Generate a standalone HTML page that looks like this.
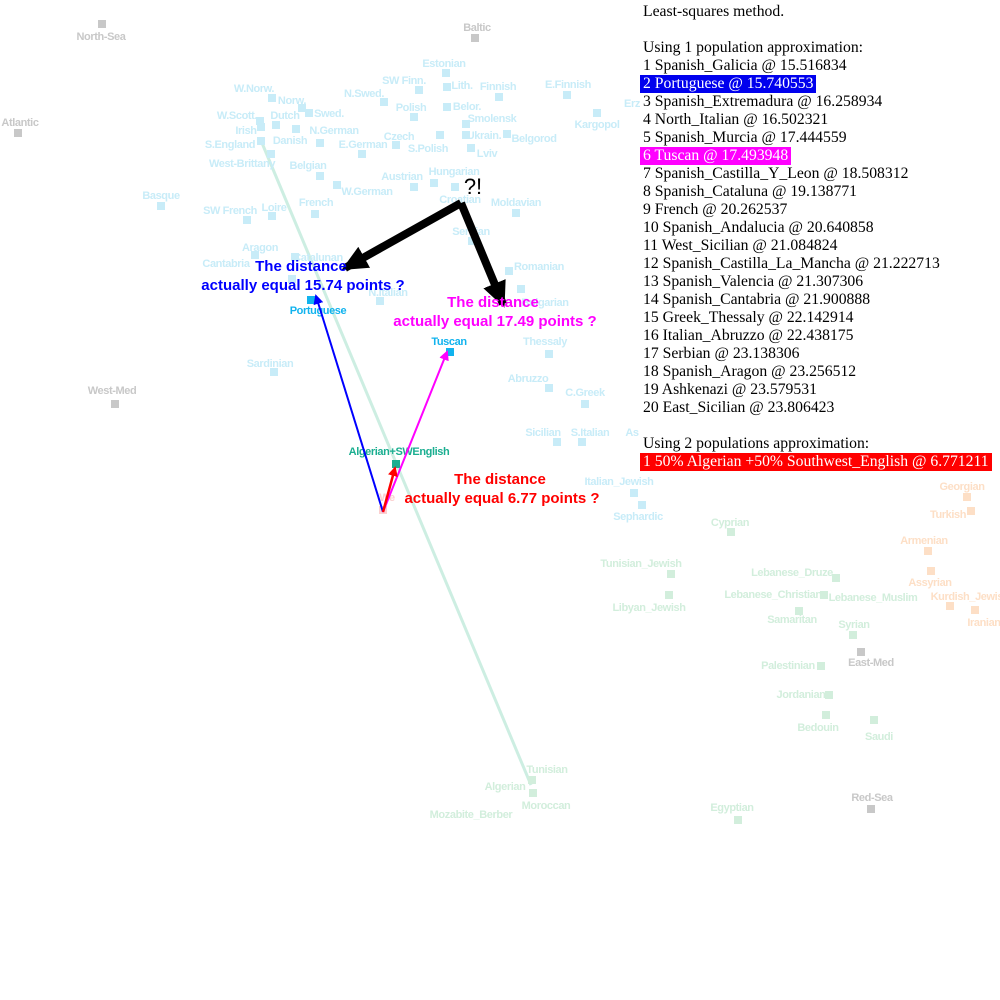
<!DOCTYPE html>
<html><head><meta charset="utf-8"><style>
body{margin:0;width:1000px;height:1000px;background:#fff;overflow:hidden;position:relative}
svg{position:absolute;left:0;top:0}
.t{font-family:"Liberation Sans Narrow","Liberation Sans",sans-serif;font-weight:bold;font-size:11px;letter-spacing:-0.4px;text-anchor:middle}
.b{fill:#c8ecf8}.g{fill:#d2eedc}.o{fill:#fddfc6}.k{fill:#c8c8c8}
#txt{position:absolute;left:643px;top:3px;font-family:"Liberation Serif",serif;font-size:15.7px;line-height:18px;color:#000;white-space:pre}
#txt span{display:inline-block;padding:0 3px;margin-left:-3px}
.big{font-family:"Liberation Sans",sans-serif;font-weight:bold;font-size:15px;text-anchor:middle}
</style></head><body>
<svg width="1000" height="1000" viewBox="0 0 1000 1000">
<defs>
<marker id="ab" markerWidth="10" markerHeight="10" refX="8" refY="5" orient="auto" markerUnits="userSpaceOnUse"><path d="M0,0 L10,5 L0,10 Z" fill="#0000ff"/></marker>
<marker id="am" markerWidth="10" markerHeight="10" refX="8" refY="5" orient="auto" markerUnits="userSpaceOnUse"><path d="M0,0 L10,5 L0,10 Z" fill="#ff00ff"/></marker>
<marker id="ar" markerWidth="10" markerHeight="10" refX="8" refY="5" orient="auto" markerUnits="userSpaceOnUse"><path d="M0,0 L10,5 L0,10 Z" fill="#ff0000"/></marker>
<marker id="ak" markerWidth="26" markerHeight="24" refX="22" refY="12" orient="auto" markerUnits="userSpaceOnUse"><path d="M0,0 L26,12 L0,24 Z" fill="#000"/></marker>
</defs>
<line x1="262" y1="143" x2="531" y2="785" stroke="#cdeee2" stroke-width="3"/>
<g>
<g class="b">
<rect x="268" y="94" width="8" height="8"/><rect x="298" y="104" width="8" height="8"/><rect x="305" y="109" width="8" height="8"/>
<rect x="256" y="117" width="8" height="8"/><rect x="272" y="121" width="8" height="8"/><rect x="257" y="123" width="8" height="8"/>
<rect x="292" y="125" width="8" height="8"/><rect x="316" y="139" width="8" height="8"/><rect x="257" y="137" width="8" height="8"/>
<rect x="358" y="150" width="8" height="8"/><rect x="267" y="150" width="8" height="8"/><rect x="392" y="141" width="8" height="8"/>
<rect x="436" y="131" width="8" height="8"/><rect x="410" y="113" width="8" height="8"/><rect x="380" y="98" width="8" height="8"/>
<rect x="415" y="86" width="8" height="8"/><rect x="442" y="69" width="8" height="8"/><rect x="443" y="83" width="8" height="8"/>
<rect x="443" y="103" width="8" height="8"/><rect x="462" y="120" width="8" height="8"/><rect x="462" y="131" width="8" height="8"/>
<rect x="503" y="130" width="8" height="8"/><rect x="467" y="144" width="8" height="8"/><rect x="495" y="93" width="8" height="8"/>
<rect x="563" y="91" width="8" height="8"/><rect x="593" y="109" width="8" height="8"/>
<rect x="316" y="172" width="8" height="8"/><rect x="333" y="181" width="8" height="8"/><rect x="410" y="183" width="8" height="8"/>
<rect x="430" y="179" width="8" height="8"/><rect x="451" y="183" width="8" height="8"/><rect x="512" y="209" width="8" height="8"/>
<rect x="157" y="202" width="8" height="8"/><rect x="243" y="216" width="8" height="8"/><rect x="268" y="212" width="8" height="8"/>
<rect x="311" y="210" width="8" height="8"/><rect x="468" y="237" width="8" height="8"/>
<rect x="251" y="251" width="8" height="8"/><rect x="291" y="253" width="8" height="8"/><rect x="288" y="275" width="8" height="8"/>
<rect x="376" y="297" width="8" height="8"/><rect x="505" y="267" width="8" height="8"/><rect x="517" y="285" width="8" height="8"/>
<rect x="545" y="350" width="8" height="8"/><rect x="270" y="368" width="8" height="8"/><rect x="545" y="384" width="8" height="8"/>
<rect x="581" y="400" width="8" height="8"/><rect x="553" y="438" width="8" height="8"/><rect x="578" y="438" width="8" height="8"/>
<rect x="630" y="489" width="8" height="8"/><rect x="638" y="501" width="8" height="8"/>
</g>
<rect x="307" y="296" width="8" height="8" fill="#11b3ee"/>
<rect x="446" y="348" width="8" height="8" fill="#11b3ee"/>
<rect x="392" y="460" width="8" height="8" fill="#1aae90"/>
<rect x="379" y="506" width="8" height="8" fill="#fbd0d0"/>
<g class="t" fill="#c8ecf8">
<text x="254" y="92">W.Norw.</text><text x="292" y="104">Norw.</text><text x="329" y="117">Swed.</text>
<text x="237" y="119">W.Scott.</text><text x="285" y="119">Dutch</text><text x="246" y="134">Irish</text>
<text x="334" y="134">N.German</text><text x="290" y="144">Danish</text><text x="230" y="148">S.England</text>
<text x="363" y="148">E.German</text><text x="242" y="167">West-Brittany</text><text x="399" y="140">Czech</text>
<text x="428" y="152">S.Polish</text><text x="411" y="111">Polish</text><text x="364" y="97">N.Swed.</text>
<text x="404" y="84">SW Finn.</text><text x="444" y="67">Estonian</text><text x="462" y="89">Lith.</text>
<text x="467" y="110">Belor.</text><text x="492" y="122">Smolensk</text><text x="484" y="139">Ukrain.</text>
<text x="534" y="142">Belgorod</text><text x="487" y="157">Lviv</text><text x="498" y="90">Finnish</text>
<text x="568" y="88">E.Finnish</text><text x="597" y="128">Kargopol</text><text x="632" y="107">Erz</text>
<text x="308" y="169">Belgian</text><text x="367" y="195">W.German</text><text x="402" y="180">Austrian</text>
<text x="454" y="175">Hungarian</text><text x="460" y="203">Croatian</text><text x="516" y="206">Moldavian</text>
<text x="161" y="199">Basque</text><text x="230" y="214">SW French</text><text x="274" y="211">Loire</text>
<text x="316" y="206">French</text><text x="471" y="235">Serbian</text><text x="260" y="251">Aragon</text>
<text x="226" y="267">Cantabria</text><text x="318" y="261">Catalunan</text><text x="388" y="296">N.Italian</text>
<text x="539" y="270">Romanian</text><text x="545" y="306">Bulgarian</text><text x="545" y="345">Thessaly</text>
<text x="270" y="367">Sardinian</text><text x="528" y="382">Abruzzo</text><text x="585" y="396">C.Greek</text>
<text x="543" y="436">Sicilian</text><text x="590" y="436">S.Italian</text><text x="632" y="436">As</text>
<text x="619" y="485">Italian_Jewish</text><text x="638" y="520">Sephardic</text>
</g>
<text class="t" x="318" y="314" fill="#11b3ee">Portuguese</text>
<text class="t" x="449" y="345" fill="#11b3ee">Tuscan</text>
<text class="t" x="399" y="455" fill="#1aae90" font-size="11.5">Algerian+SWEnglish</text>
<text class="t" x="387" y="501" fill="#fbd0d0">We</text>
<g class="g">
<rect x="727" y="528" width="8" height="8"/><rect x="667" y="570" width="8" height="8"/><rect x="665" y="591" width="8" height="8"/>
<rect x="832" y="574" width="8" height="8"/><rect x="820" y="591" width="8" height="8"/><rect x="795" y="607" width="8" height="8"/>
<rect x="849" y="631" width="8" height="8"/><rect x="817" y="662" width="8" height="8"/><rect x="825" y="691" width="8" height="8"/>
<rect x="822" y="711" width="8" height="8"/><rect x="870" y="716" width="8" height="8"/><rect x="734" y="816" width="8" height="8"/>
<rect x="528" y="776" width="8" height="8"/><rect x="529" y="789" width="8" height="8"/>
</g>
<g class="t" fill="#d2eedc">
<text x="730" y="526">Cyprian</text><text x="641" y="567">Tunisian_Jewish</text><text x="649" y="611">Libyan_Jewish</text>
<text x="792" y="576">Lebanese_Druze</text><text x="773" y="598">Lebanese_Christian</text><text x="873" y="601">Lebanese_Muslim</text>
<text x="792" y="623">Samaritan</text><text x="854" y="628">Syrian</text><text x="788" y="669">Palestinian</text>
<text x="801" y="698">Jordanian</text><text x="818" y="731">Bedouin</text><text x="879" y="740">Saudi</text>
<text x="732" y="811">Egyptian</text><text x="547" y="773">Tunisian</text><text x="505" y="790">Algerian</text>
<text x="546" y="809">Moroccan</text><text x="471" y="818">Mozabite_Berber</text>
</g>
<g class="o">
<rect x="963" y="493" width="8" height="8"/><rect x="967" y="507" width="8" height="8"/><rect x="924" y="547" width="8" height="8"/>
<rect x="927" y="567" width="8" height="8"/><rect x="946" y="602" width="8" height="8"/><rect x="971" y="606" width="8" height="8"/>
</g>
<g class="t" fill="#fddfc6">
<text x="962" y="490">Georgian</text><text x="948" y="518">Turkish</text><text x="924" y="544">Armenian</text>
<text x="930" y="586">Assyrian</text><text x="970" y="600">Kurdish_Jewish</text><text x="984" y="626">Iranian</text>
</g>
<g class="k">
<rect x="98" y="20" width="8" height="8"/><rect x="471" y="34" width="8" height="8"/><rect x="14" y="129" width="8" height="8"/>
<rect x="111" y="400" width="8" height="8"/><rect x="857" y="648" width="8" height="8"/><rect x="867" y="805" width="8" height="8"/>
</g>
<g class="t" fill="#c8c8c8">
<text x="101" y="40">North-Sea</text><text x="477" y="31">Baltic</text><text x="20" y="126">Atlantic</text>
<text x="112" y="394">West-Med</text><text x="871" y="666">East-Med</text><text x="872" y="801">Red-Sea</text>
</g>
</g>
<line x1="383" y1="512" x2="316" y2="296" stroke="#0000ff" stroke-width="2" marker-end="url(#ab)"/>
<line x1="383" y1="512" x2="447" y2="352" stroke="#ff00ff" stroke-width="2" marker-end="url(#am)"/>
<line x1="383" y1="512" x2="395" y2="468" stroke="#ff0000" stroke-width="2.5" marker-end="url(#ar)"/>
<line x1="461" y1="203" x2="345" y2="268" stroke="#000" stroke-width="8" marker-end="url(#ak)"/>
<line x1="461" y1="203" x2="503" y2="304" stroke="#000" stroke-width="8" marker-end="url(#ak)"/>
<text x="473" y="194" font-family="Liberation Sans,sans-serif" font-size="22" text-anchor="middle">?!</text>
<g class="big" fill="#0000ff"><text x="301" y="271">The distance</text><text x="303" y="290">actually equal 15.74 points ?</text></g>
<g class="big" fill="#ff00ff"><text x="493" y="307">The distance</text><text x="495" y="326">actually equal 17.49 points ?</text></g>
<g class="big" fill="#ff0000"><text x="500" y="484">The distance</text><text x="502" y="503">actually equal 6.77 points ?</text></g>
</svg>
<div id="txt">Least-squares method.

Using 1 population approximation:
1 Spanish_Galicia @ 15.516834
<span style="background:#0000ee;color:#fff">2 Portuguese @ 15.740553</span>
3 Spanish_Extremadura @ 16.258934
4 North_Italian @ 16.502321
5 Spanish_Murcia @ 17.444559
<span style="background:#ff00ff;color:#fff">6 Tuscan @ 17.493948</span>
7 Spanish_Castilla_Y_Leon @ 18.508312
8 Spanish_Cataluna @ 19.138771
9 French @ 20.262537
10 Spanish_Andalucia @ 20.640858
11 West_Sicilian @ 21.084824
12 Spanish_Castilla_La_Mancha @ 21.222713
13 Spanish_Valencia @ 21.307306
14 Spanish_Cantabria @ 21.900888
15 Greek_Thessaly @ 22.142914
16 Italian_Abruzzo @ 22.438175
17 Serbian @ 23.138306
18 Spanish_Aragon @ 23.256512
19 Ashkenazi @ 23.579531
20 East_Sicilian @ 23.806423

Using 2 populations approximation:
<span style="background:#ff0000;color:#fff">1 50% Algerian +50% Southwest_English @ 6.771211</span></div>
</body></html>
